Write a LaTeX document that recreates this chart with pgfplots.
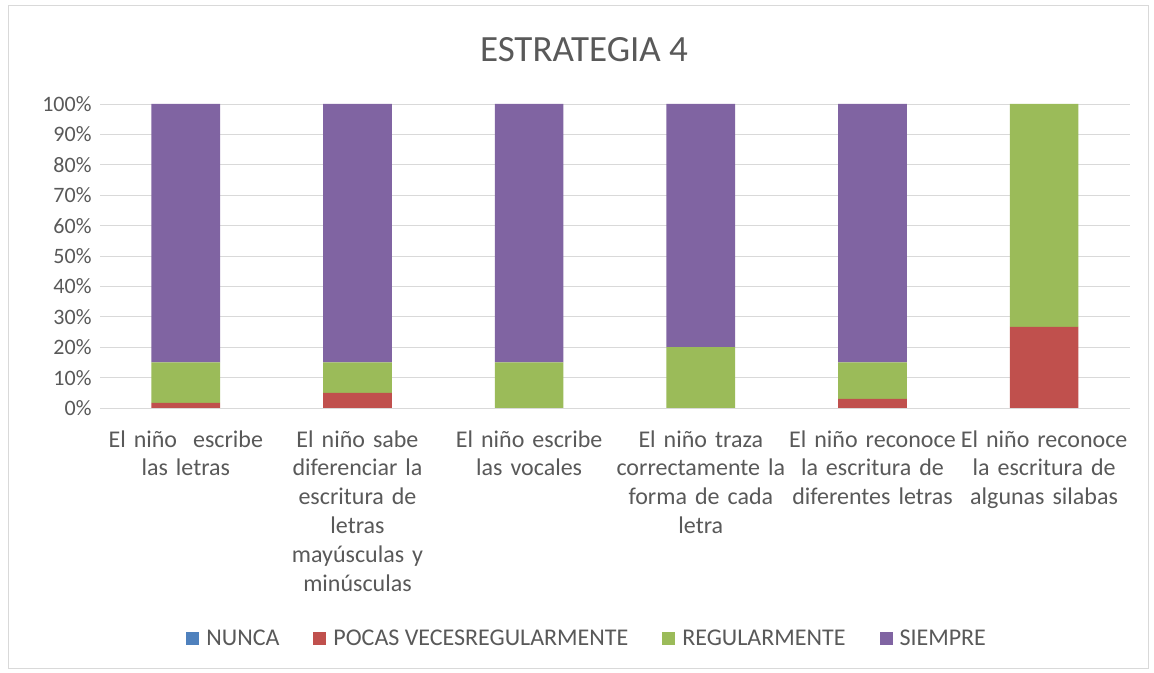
\documentclass[border=0pt]{standalone}
\usepackage{pgfplots}
\pgfplotsset{compat=1.18}
\usepackage{fontspec}
\setmainfont{Carlito}
\definecolor{cNunca}{HTML}{4F81BD}
\definecolor{cPocas}{HTML}{C0504D}
\definecolor{cReg}{HTML}{9BBB59}
\definecolor{cSiem}{HTML}{8064A2}
\definecolor{txt}{HTML}{595959}
\definecolor{gridc}{HTML}{D9D9D9}
\begin{document}
\begin{tikzpicture}
\useasboundingbox (0,0) rectangle (1154bp,673bp);
\fill[white] (0,0) rectangle (1154bp,673bp);
\draw[gridc, line width=0.8bp] (8bp,5bp) rectangle (1148bp,668bp);
\node[font=\fontsize{37bp}{44bp}\selectfont, text=txt] at (584bp,623bp) {ESTRATEGIA 4};
\begin{axis}[
  at={(100bp,265bp)}, anchor=south west,
  scale only axis, width=1030bp, height=304bp,
  ybar stacked, bar width=0.4,
  xmin=-0.5, xmax=5.5, ymin=0, ymax=100,
  xtick={0,1,2,3,4,5},
  xticklabels={
    {El niño\ \ escribe\\las letras},
    {El niño sabe\\diferenciar la\\escritura de\\letras\\mayúsculas y\\minúsculas},
    {El niño escribe\\las vocales},
    {El niño traza\\correctamente la\\forma de cada\\letra},
    {El niño reconoce\\la escritura de\\diferentes letras},
    {El niño reconoce\\la escritura de\\algunas silabas}},
  xticklabel style={text width=172bp, align=center, font=\fontsize{24bp}{28.8bp}\selectfont, text=txt, yshift=-19bp},
  ytick={0,10,...,100},
  yticklabel={\pgfmathprintnumber{\tick}\%},
  yticklabel style={font=\fontsize{22bp}{26bp}\selectfont, text=txt, xshift=-5bp},
  /pgf/number format/assume math mode=true,
  major tick length=0pt,
  ymajorgrids, grid style={gridc, line width=0.8bp},
  axis x line*=bottom, axis y line*=left,
  x axis line style={gridc, line width=0.8bp, -},
  y axis line style={draw=none},
  legend columns=4,
  legend style={at={(0.473,-0.757)}, anchor=center, draw=none, fill=none,
    font=\fontsize{24bp}{28bp}\selectfont, text=txt,
    /tikz/every even column/.append style={column sep=32bp},
    /tikz/every odd column/.append style={column sep=5bp}},
  legend image code/.code={\fill[#1] (0bp,-6.5bp) rectangle (13bp,6.5bp);},
]
\addplot[fill=cNunca, draw=none] coordinates {(0,0) (1,0) (2,0) (3,0) (4,0) (5,0)};
\addplot[fill=cPocas, draw=none] coordinates {(0,1.7) (1,5) (2,0) (3,0) (4,3) (5,26.7)};
\addplot[fill=cReg, draw=none] coordinates {(0,13.3) (1,10) (2,15) (3,20) (4,12) (5,73.3)};
\addplot[fill=cSiem, draw=none] coordinates {(0,85) (1,85) (2,85) (3,80) (4,85) (5,0)};
\legend{NUNCA, POCAS VECESREGULARMENTE, REGULARMENTE, SIEMPRE}
\end{axis}
\end{tikzpicture}
\end{document}
